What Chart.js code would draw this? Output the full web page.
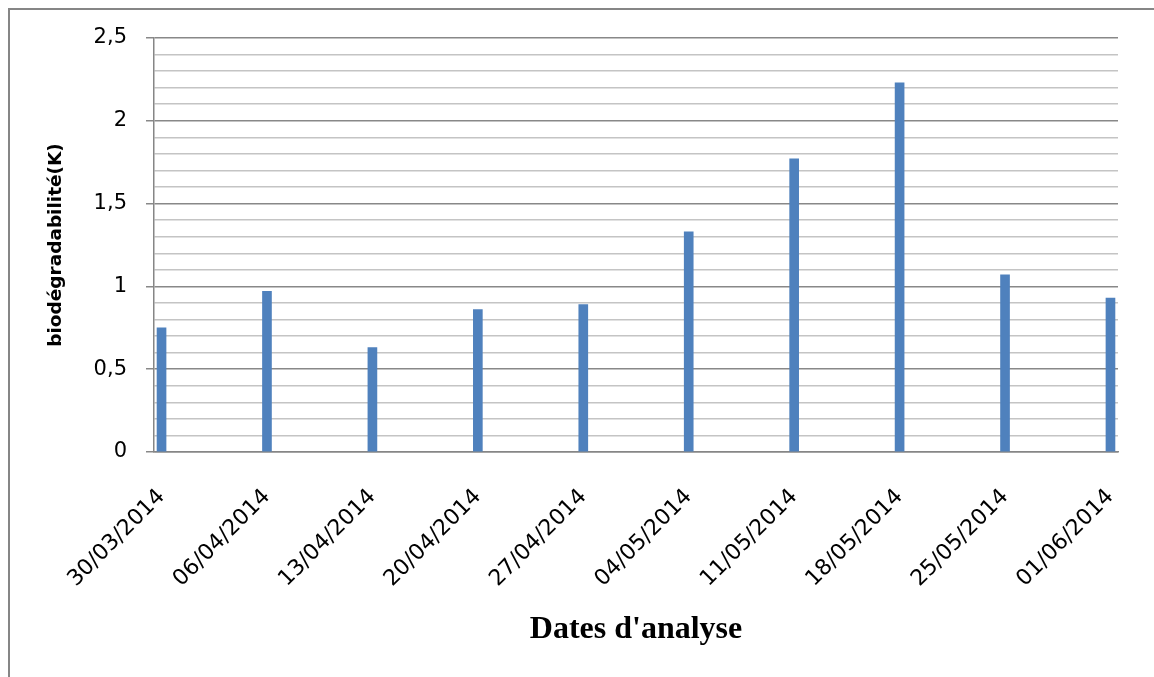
<!DOCTYPE html>
<html>
<head>
<meta charset="utf-8">
<script src="https://cdn.jsdelivr.net/npm/chart.js@4/dist/chart.umd.min.js"></script>
<style>
  html, body { margin: 0; padding: 0; background: #fff; }
  #wrap { position: relative; width: 1154px; height: 677px; }
</style>
</head>
<body>
<div id="wrap"><canvas id="c" width="1154" height="677"></canvas></div>
<script>
// ---- data ----
const dateLabels = ['30/03/2014','06/04/2014','13/04/2014','20/04/2014','27/04/2014',
                    '04/05/2014','11/05/2014','18/05/2014','25/05/2014','01/06/2014'];
const biodegradabilite = [0.75, 0.97, 0.63, 0.86, 0.89, 1.33, 1.77, 2.23, 1.07, 0.93];
const yMin = 0, yMax = 2.5, yMinorStep = 0.1, yMajorStep = 0.5;

// day offsets derived from the date labels
function parseDMY(s) { const [d, m, y] = s.split('/').map(Number); return Date.UTC(y, m - 1, d); }
const t0 = parseDMY(dateLabels[0]);
const dayOffsets = dateLabels.map(s => Math.round((parseDMY(s) - t0) / 86400000));

const isMajor = v => Math.abs(v / yMajorStep - Math.round(v / yMajorStep)) < 1e-6;
const fmt = v => (Math.round(v * 10) / 10).toString().replace('.', ',');

const frame = {
  id: 'frame',
  afterDraw(chart) {
    const ctx = chart.ctx;
    ctx.save();
    ctx.strokeStyle = '#868686';
    ctx.lineWidth = 2;
    ctx.beginPath();
    ctx.moveTo(9, 700);
    ctx.lineTo(9, 9);
    ctx.lineTo(1200, 9);
    ctx.stroke();
    ctx.restore();
  }
};

Chart.defaults.color = '#000';

new Chart(document.getElementById('c'), {
  type: 'bar',
  data: {
    datasets: [{
      label: 'biodégradabilité(K)',
      data: dayOffsets.map((d, i) => ({ x: d, y: biodegradabilite[i] })),
      backgroundColor: '#4F81BD',
      borderWidth: 0,
      barThickness: 9
    }]
  },
  options: {
    responsive: false,
    animation: false,
    layout: { padding: { top: 38, right: 36, left: 0, bottom: 0 } },
    plugins: { legend: { display: false }, tooltip: { enabled: false } },
    scales: {
      x: {
        type: 'linear',
        offset: false,
        min: dayOffsets[0] - 0.5,
        max: dayOffsets[dayOffsets.length - 1] + 0.5,
        afterBuildTicks: s => { s.ticks = dayOffsets.map(v => ({ value: v })); },
        afterFit: s => { s.height = 225; },
        grid: { display: false, offset: false },
        border: { display: true, color: '#868686', width: 1.5 },
        ticks: {
          autoSkip: false,
          minRotation: 45,
          maxRotation: 45,
          padding: 24,
          font: { family: 'DejaVu Sans', size: 22 },
          callback: v => { const i = dayOffsets.indexOf(v); return i >= 0 ? dateLabels[i] : ''; }
        },
        title: {
          display: true,
          text: "Dates d'analyse",
          font: { family: 'Liberation Serif', size: 32, weight: 'bold' },
          padding: { top: 0, bottom: 28 }
        }
      },
      y: {
        min: yMin,
        max: yMax,
        afterFit: s => { s.width = 154; },
        border: { display: true, color: '#868686', width: 1.5 },
        grid: {
          lineWidth: 1.5,
          color: c => isMajor(c.tick.value) ? '#888888' : '#C4C4C4',
          tickColor: c => isMajor(c.tick.value) ? '#888888' : 'rgba(0,0,0,0)',
          tickLength: 8
        },
        ticks: {
          stepSize: yMinorStep,
          autoSkip: false,
          padding: 19,
          font: { family: 'DejaVu Sans', size: 21 },
          callback: v => isMajor(v) ? fmt(v) : ''
        },
        title: {
          display: true,
          text: 'biodégradabilité(K)',
          font: { family: 'DejaVu Sans', size: 18.5, weight: 'bold' },
          padding: { top: 45, bottom: 0 }
        }
      }
    }
  },
  plugins: [frame]
});
</script>
</body>
</html>
